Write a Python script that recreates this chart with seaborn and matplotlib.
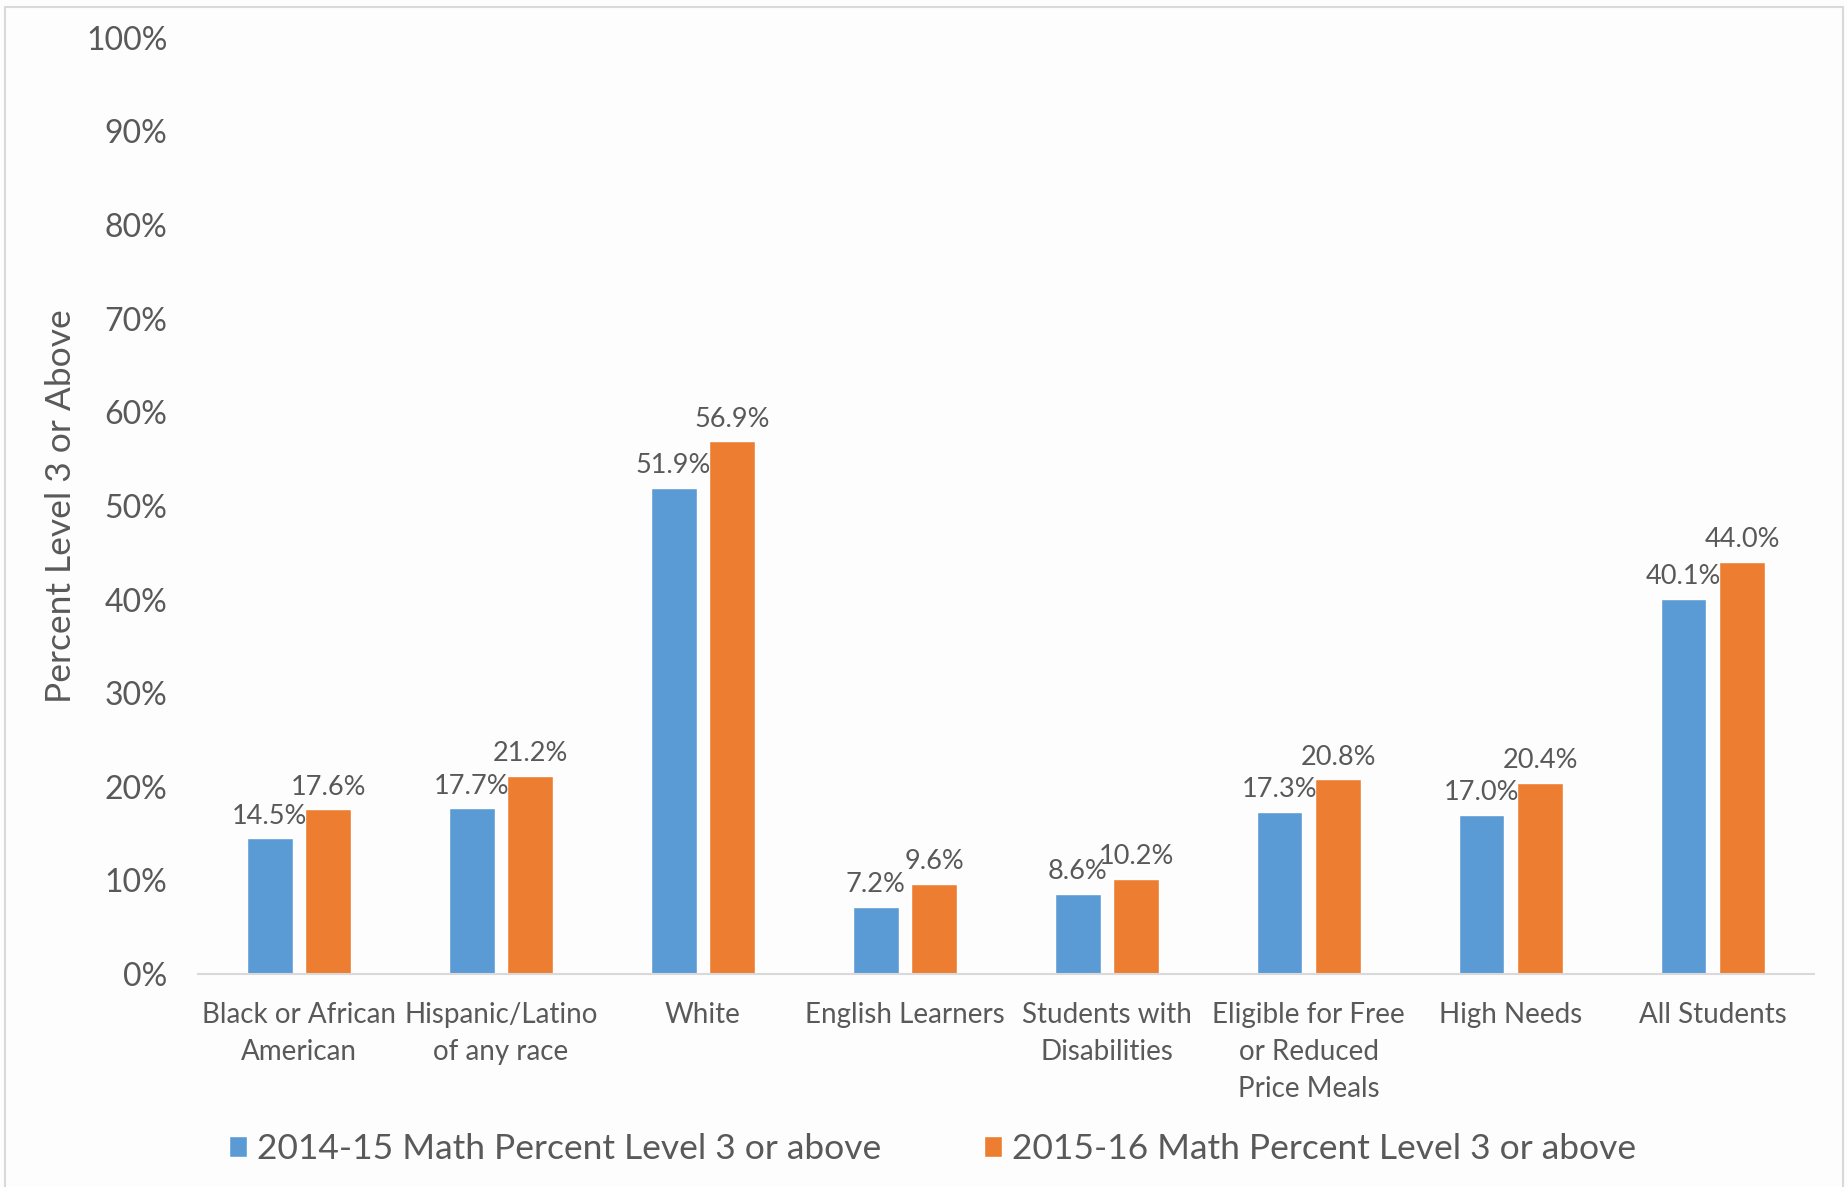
import matplotlib
matplotlib.use("Agg")
import matplotlib.pyplot as plt
import matplotlib.patches as mpatches
from matplotlib.ticker import FuncFormatter, MultipleLocator
import pandas as pd
import seaborn as sns

categories = [
    "Black or African\nAmerican",
    "Hispanic/Latino\nof any race",
    "White",
    "English Learners",
    "Students with\nDisabilities",
    "Eligible for Free\nor Reduced\nPrice Meals",
    "High Needs",
    "All Students",
]
series_names = [
    "2014-15 Math Percent Level 3 or above",
    "2015-16 Math Percent Level 3 or above",
]
values_2015 = [14.5, 17.7, 51.9, 7.2, 8.6, 17.3, 17.0, 40.1]
values_2016 = [17.6, 21.2, 56.9, 9.6, 10.2, 20.8, 20.4, 44.0]
y_label = "Percent Level 3 or Above"

colors = ["#5B9BD5", "#ED7D31"]
text_gray = "#595959"

df = pd.DataFrame({
    "Group": categories * 2,
    "Series": [series_names[0]] * len(categories) + [series_names[1]] * len(categories),
    "Value": values_2015 + values_2016,
})

sns.set_theme(style="white")
plt.rcParams["font.family"] = ["Lato", "DejaVu Sans"]

fig = plt.figure(figsize=(18.47, 11.87), dpi=100, facecolor="#fdfdfd")
ax = fig.add_axes([0.1072, 0.1794, 0.8748, 0.7888])
ax.set_facecolor("#fdfdfd")

sns.barplot(
    data=df, x="Group", y="Value", hue="Series", order=categories,
    hue_order=series_names, palette=colors, width=0.58, gap=0.217,
    saturation=1, ax=ax, legend=True,
)

for container in ax.containers:
    ax.bar_label(container, fmt="%.1f%%", padding=7, fontsize=19.5, color=text_gray)

ax.set_ylim(0, 100)
ax.set_xlim(-0.5, len(categories) - 0.5)
ax.yaxis.set_major_locator(MultipleLocator(10))
ax.yaxis.set_major_formatter(FuncFormatter(lambda v, _: f"{v:.0f}%"))
ax.tick_params(axis="y", labelsize=23, colors=text_gray, length=0, pad=22)
ax.tick_params(axis="x", labelsize=20, colors=text_gray, length=0, pad=20)
for lbl in ax.get_xticklabels():
    lbl.set_linespacing(1.52)
ax.set_xlabel("")
ax.set_ylabel(y_label, fontsize=25.5, color=text_gray, va="center")
ax.yaxis.set_label_coords(-0.0848, 0.5)

for side in ["top", "right", "left"]:
    ax.spines[side].set_visible(False)
ax.spines["bottom"].set_color("#d9d9d9")
ax.spines["bottom"].set_linewidth(1.5)

handles, labels = ax.get_legend_handles_labels()
ax.legend_.remove()
fig.legend(
    handles, labels, loc="center", bbox_to_anchor=(0.505, 0.032), ncol=2,
    frameon=False, fontsize=25.5, handlelength=0.5, handleheight=0.5,
    handletextpad=0.3, columnspacing=2.9, labelcolor=text_gray,
)

# light frame around the whole chart area
fig.patches.append(mpatches.Rectangle(
    (5 / 1847, -0.01), 1838 / 1847, 1 - 7 / 1187 + 0.01,
    transform=fig.transFigure, fill=False, edgecolor="#d9d9d9", linewidth=1.5,
))

fig.savefig("out.png", dpi=100, facecolor=fig.get_facecolor())
